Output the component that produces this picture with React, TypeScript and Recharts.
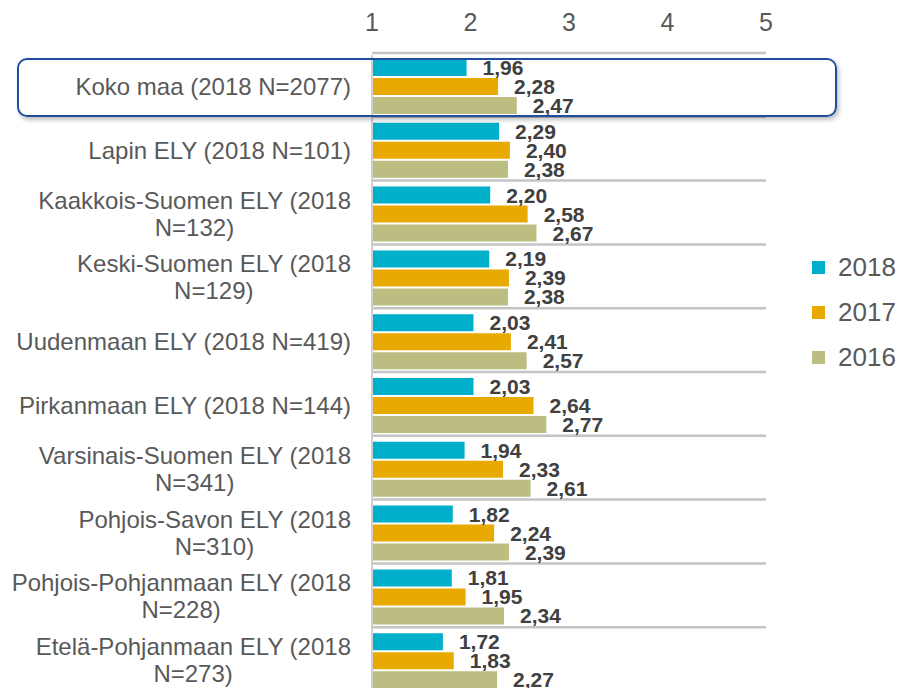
import { BarChart, Bar, XAxis, YAxis, CartesianGrid, Legend, LabelList } from "recharts"

const regions = [
  "Koko maa (2018 N=2077)",
  "Lapin ELY (2018 N=101)",
  "Kaakkois-Suomen ELY (2018 N=132)",
  "Keski-Suomen ELY (2018 N=129)",
  "Uudenmaan ELY (2018 N=419)",
  "Pirkanmaan ELY (2018 N=144)",
  "Varsinais-Suomen ELY (2018 N=341)",
  "Pohjois-Savon ELY (2018 N=310)",
  "Pohjois-Pohjanmaan ELY (2018 N=228)",
  "Etelä-Pohjanmaan ELY (2018 N=273)",
]
const y2018 = [1.96, 2.29, 2.2, 2.19, 2.03, 2.03, 1.94, 1.82, 1.81, 1.72]
const y2017 = [2.28, 2.4, 2.58, 2.39, 2.41, 2.64, 2.33, 2.24, 1.95, 1.83]
const y2016 = [2.47, 2.38, 2.67, 2.38, 2.57, 2.77, 2.61, 2.39, 2.34, 2.27]
const xTicks = [1, 2, 3, 4, 5]

const data = regions.map((name, i) => ({ name, y2018: y2018[i], y2017: y2017[i], y2016: y2016[i] }))

const FONT = "'Liberation Sans', Arial, sans-serif"
const LABEL_SIZE = 24

let ctx: CanvasRenderingContext2D | null = null
function textWidth(s: string) {
  if (!ctx) ctx = document.createElement("canvas").getContext("2d")
  if (!ctx) return s.length * 12
  ctx.font = `${LABEL_SIZE}px 'Liberation Sans'`
  return ctx.measureText(s).width
}

const fmt = (v: any) => Number(v).toFixed(2).replace(".", ",")

function RegionTick(props: any) {
  const { x, y, payload } = props
  const name: string = payload.value
  if (name.length <= 28) {
    return (
      <text x={x} y={y + 8} textAnchor="end" fill="#595959" fontSize={LABEL_SIZE} fontFamily={FONT}>
        {name}
      </text>
    )
  }
  // long names wrap onto two lines, second line centred under the first
  const cut = name.lastIndexOf(" ")
  const first = name.slice(0, cut)
  const second = name.slice(cut + 1)
  const w = textWidth(first)
  return (
    <g fill="#595959" fontSize={LABEL_SIZE} fontFamily={FONT}>
      <text x={x} y={y - 6} textAnchor="end">{first}</text>
      <text x={x - w / 2} y={y + 21} textAnchor="middle">{second}</text>
    </g>
  )
}

function LegendBox(props: any) {
  const items = [...(props.payload || [])].sort((a: any, b: any) => String(b.value).localeCompare(String(a.value)))
  return (
    <div>
      {items.map((p: any) => (
        <div key={p.value} style={{ display: "flex", alignItems: "center", height: 45 }}>
          <span style={{ width: 13, height: 13, background: p.color, marginRight: 13 }} />
          <span style={{ fontSize: 26, color: "#595959", fontFamily: FONT }}>{p.value}</span>
        </div>
      ))}
    </div>
  )
}

export default function App() {
  return (
    <div style={{ position: "relative", width: 902, height: 688, overflow: "hidden", fontFamily: FONT }}>
      <style>{`body{margin:0}`}</style>
      <BarChart
        width={902}
        height={693}
        data={data}
        layout="vertical"
        margin={{ top: 0, right: 136, bottom: 0, left: 0 }}
        barCategoryGap={4}
        barGap={2}
      >
        <CartesianGrid
          vertical={false}
          stroke="#c4c4c4"
          strokeWidth={2.5}
          horizontalCoordinatesGenerator={({ offset }: any) =>
            Array.from({ length: regions.length + 1 }, (_, i) => offset.top + (i * offset.height) / regions.length - 2)
          }
        />
        <XAxis
          type="number"
          orientation="top"
          domain={[1, 5]}
          ticks={xTicks}
          height={55}
          axisLine={false}
          tickLine={false}
          tickSize={0}
          tickMargin={24}
          tick={{ fill: "#595959", fontSize: 25 }}
        />
        <YAxis
          type="category"
          dataKey="name"
          width={372}
          axisLine={{ stroke: "#cfcfcf", strokeWidth: 2 }}
          tickLine={false}
          tickSize={0}
          tickMargin={21}
          tick={<RegionTick />}
          interval={0}
        />
        <Legend
          layout="vertical"
          verticalAlign="middle"
          align="center"
          content={<LegendBox />}
          wrapperStyle={{ position: "absolute", left: 812, top: 245, width: 90 }}
        />
        <Bar dataKey="y2018" name="2018" fill="#00afc9" isAnimationActive={false}>
          <LabelList dataKey="y2018" position="right" offset={16} formatter={fmt} fill="#404040" fontSize={21} fontWeight="bold" />
        </Bar>
        <Bar dataKey="y2017" name="2017" fill="#e8a900" isAnimationActive={false}>
          <LabelList dataKey="y2017" position="right" offset={16} formatter={fmt} fill="#404040" fontSize={21} fontWeight="bold" />
        </Bar>
        <Bar dataKey="y2016" name="2016" fill="#bcbd80" isAnimationActive={false}>
          <LabelList dataKey="y2016" position="right" offset={16} formatter={fmt} fill="#404040" fontSize={21} fontWeight="bold" />
        </Bar>
      </BarChart>
      <div
        style={{
          position: "absolute",
          left: 17,
          top: 58,
          width: 816,
          height: 55,
          border: "2px solid #1f4e9f",
          borderRadius: 10,
          boxShadow: "2px 3px 4px rgba(0,0,0,0.25)",
          pointerEvents: "none",
        }}
      />
    </div>
  )
}
